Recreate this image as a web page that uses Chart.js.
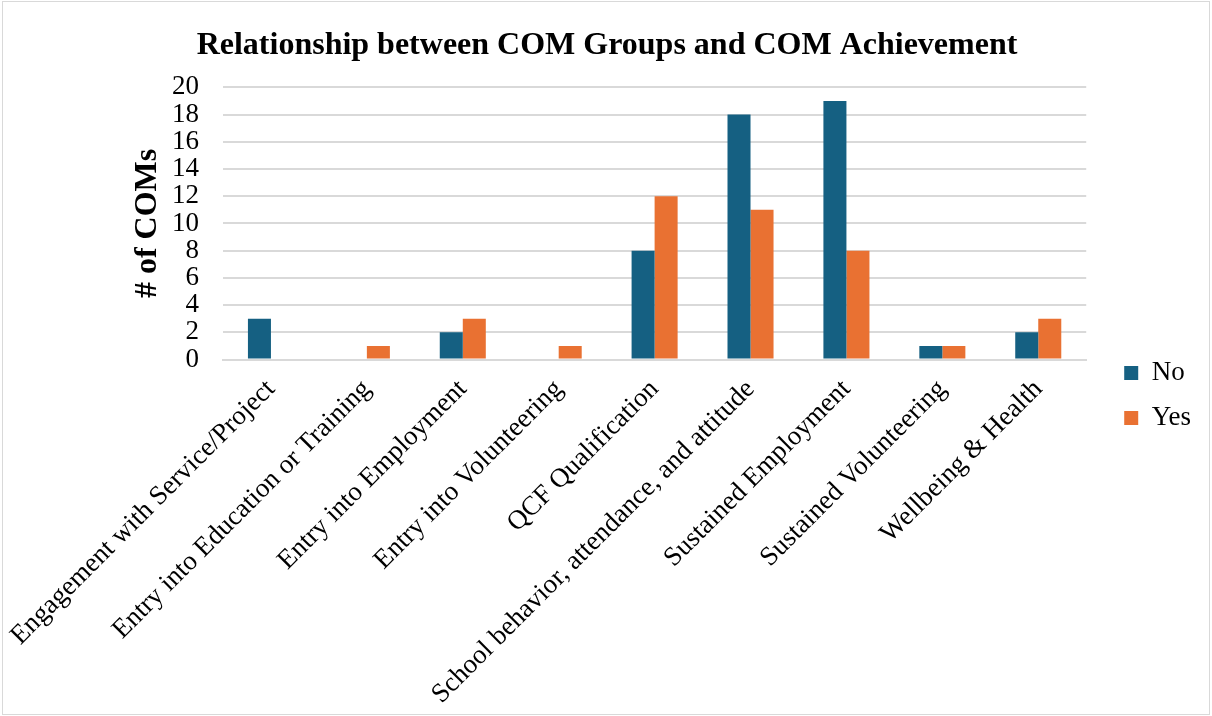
<!DOCTYPE html>
<html lang="en">
<head>
    <meta charset="UTF-8">
    <title>COM Groups and COM Achievement</title>
    <style>
      body { margin: 0; background: #fff; }
      .chart-box {
        position: absolute; left: 2px; top: 1px;
        width: 1208px; height: 714px;
        box-sizing: border-box; border: 1px solid #d9d9d9;
      }
    </style>
</head>
<body>

    <div class="chart-box">
      <canvas id="myChart"></canvas>
    </div>

    <script src="https://cdn.jsdelivr.net/npm/chart.js"></script>
    <script>
      var comGroups = [
        'Engagement with Service/Project',
        'Entry into Education or Training',
        'Entry into Employment',
        'Entry into Volunteering',
        'QCF Qualification',
        'School behavior, attendance, and attitude',
        'Sustained Employment',
        'Sustained Volunteering',
        'Wellbeing & Health'
      ];
      var noCounts  = [3, 0, 2, 0, 8, 18, 19, 1, 2];
      var yesCounts = [0, 1, 3, 1, 12, 11, 8, 1, 3];
      var yTicks = [0, 2, 4, 6, 8, 10, 12, 14, 16, 18, 20];

      var serif = "'Liberation Serif', 'Times New Roman', serif";

      // move title and legend off the spots the layout gives them
      var boxNudge = {
        id: 'boxNudge',
        afterLayout: function (chart) {
          chart.titleBlock.left -= 45;
          chart.titleBlock.right -= 45;
          chart.legend.left += 20;
          chart.legend.right += 20;
          chart.legend.top += 36;
          chart.legend.bottom += 36;
        }
      };

      var ctx = document.getElementById('myChart').getContext('2d');
      var myChart = new Chart(ctx, {
        type: 'bar',
        data: {
          labels: comGroups,
          datasets: [
            { label: 'No', data: noCounts, backgroundColor: '#156082' },
            { label: 'Yes', data: yesCounts, backgroundColor: '#E97132' }
          ]
        },
        plugins: [boxNudge],
        options: {
          responsive: true,
          maintainAspectRatio: false,
          animation: false,
          datasets: { bar: { categoryPercentage: 0.48, barPercentage: 1 } },
          layout: { padding: { top: 9, left: 120, right: 28, bottom: 6 } },
          plugins: {
            title: {
              display: true,
              text: 'Relationship between COM Groups and COM Achievement',
              color: '#000',
              font: { family: serif, size: 32, weight: 'bold' },
              padding: { top: 16, bottom: 22 }
            },
            legend: {
              position: 'right',
              labels: {
                color: '#000',
                font: { family: serif, size: 27 },
                boxWidth: 14,
                boxHeight: 14,
                padding: 18
              }
            },
            tooltip: { enabled: false }
          },
          scales: {
            x: {
              // long rotated labels may run into the left margin
              afterFit: function (scale) { scale.paddingLeft = 0; },
              grid: { display: false },
              border: { color: '#d9d9d9', width: 2 },
              ticks: {
                color: '#000',
                font: { family: serif, size: 27 },
                autoSkip: false,
                minRotation: 45,
                maxRotation: 45,
                padding: 6
              }
            },
            y: {
              min: 0,
              max: 20,
              afterBuildTicks: function (scale) {
                scale.ticks = yTicks.map(function (v) { return { value: v }; });
              },
              // keep the axis column narrow, tick padding gets counted twice otherwise
              afterFit: function (scale) { scale.width = 100; },
              grid: { color: '#d9d9d9', lineWidth: 2, drawTicks: false },
              border: { display: false },
              ticks: {
                color: '#000',
                font: { family: serif, size: 27 },
                autoSkip: false,
                padding: 24
              },
              title: {
                display: true,
                text: '# of COMs',
                color: '#000',
                font: { family: serif, size: 32, weight: 'bold' },
                padding: { top: 6, bottom: 6 }
              }
            }
          }
        }
      });
    </script>
</body>
</html>
